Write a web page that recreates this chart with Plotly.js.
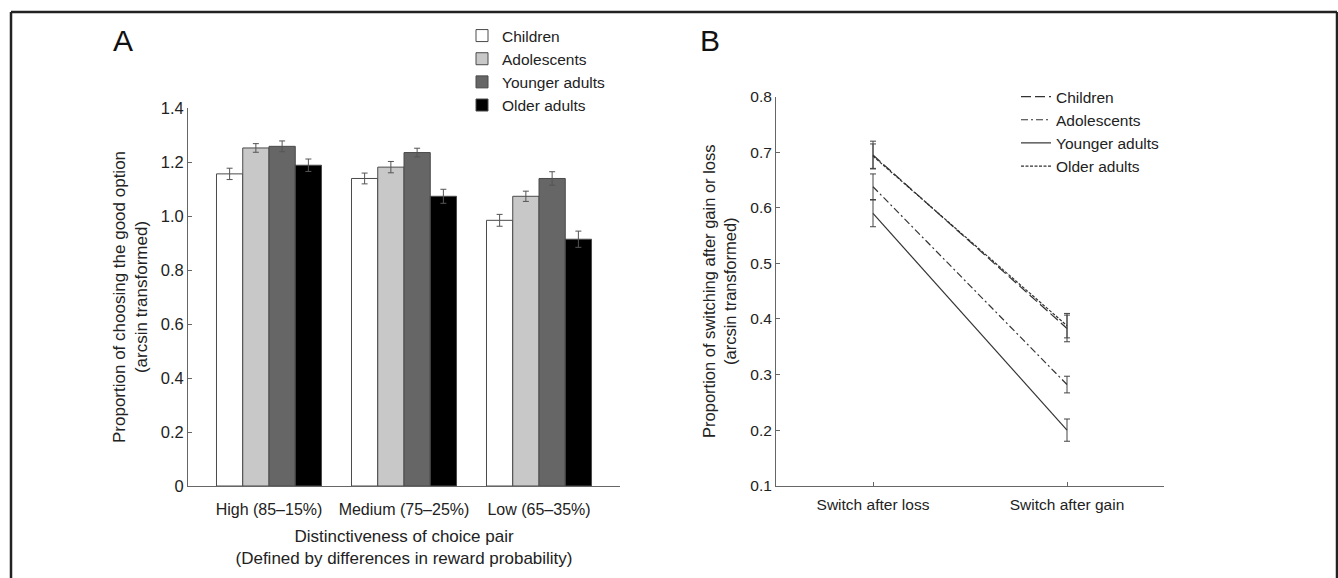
<!DOCTYPE html>
<html>
<head>
<meta charset="utf-8">
<script src="https://cdn.plot.ly/plotly-3.0.1.min.js"></script>
<style>html,body{margin:0;padding:0;background:#fff;}#chart{width:1338px;height:578px;}</style>
</head>
<body>
<div id="chart"></div>
<script>
// ---- Panel A data ----
const categoriesA = ["High (85–15%)", "Medium (75–25%)", "Low (65–35%)"];
const groups = ["Children", "Adolescents", "Younger adults", "Older adults"];
const childrenA = [1.156, 1.139, 0.984];
const adolescentsA = [1.252, 1.181, 1.073];
const youngerA = [1.258, 1.235, 1.139];
const olderA = [1.188, 1.073, 0.914];
const childrenAErr = [0.021, 0.020, 0.022];
const adolescentsAErr = [0.016, 0.021, 0.019];
const youngerAErr = [0.020, 0.016, 0.025];
const olderAErr = [0.023, 0.026, 0.030];
const yTicksA = [0, 0.2, 0.4, 0.6, 0.8, 1.0, 1.2, 1.4];
const yTickTextA = ["0", "0.2", "0.4", "0.6", "0.8", "1.0", "1.2", "1.4"];

// ---- Panel B data ----
const categoriesB = ["Switch after loss", "Switch after gain"];
const childrenB = [0.695, 0.383];
const adolescentsB = [0.638, 0.282];
const youngerB = [0.590, 0.200];
const olderB = [0.693, 0.388];
const childrenBErr = [0.025, 0.024];
const adolescentsBErr = [0.023, 0.015];
const youngerBErr = [0.024, 0.020];
const olderBErr = [0.022, 0.022];
const yTicksB = [0.1, 0.2, 0.3, 0.4, 0.5, 0.6, 0.7, 0.8];
const yTickTextB = ["0.1", "0.2", "0.3", "0.4", "0.5", "0.6", "0.7", "0.8"];

const FONT = "Arial, 'Liberation Sans', Helvetica, sans-serif";
const barFill = ["#ffffff", "#c8c8c8", "#666666", "#000000"];
const valsA = [childrenA, adolescentsA, youngerA, olderA];
const errsA = [childrenAErr, adolescentsAErr, youngerAErr, olderAErr];

const traces = [];
groups.forEach((g, i) => {
  traces.push({
    type: "bar", x: categoriesA, y: valsA[i], name: g,
    xaxis: "x", yaxis: "y", legend: "legend",
    marker: {color: barFill[i], line: {color: "#4a4a4a", width: 1}},
    error_y: {type: "data", array: errsA[i], visible: true, color: "#555", thickness: 1, width: 3}
  });
});

const valsB = [childrenB, adolescentsB, youngerB, olderB];
const errsB = [childrenBErr, adolescentsBErr, youngerBErr, olderBErr];
const dashes = ["10px,4px", "7px,3px,2px,3px", "solid", "3px,1.5px"];
groups.forEach((g, i) => {
  traces.push({
    type: "scatter", mode: "lines", x: categoriesB, y: valsB[i], name: g,
    xaxis: "x2", yaxis: "y2", legend: "legend2",
    line: {color: "#333", width: 1.2, dash: dashes[i]},
    error_y: {type: "data", array: errsB[i], visible: true, color: "#444", thickness: 1, width: 3}
  });
});

const W = 1338, H = 578;
const px = v => v / W, py = v => 1 - v / H;

const layout = {
  width: W, height: H,
  margin: {l: 0, r: 0, t: 0, b: 0},
  paper_bgcolor: "#fff", plot_bgcolor: "rgba(0,0,0,0)",
  font: {family: FONT, size: 16, color: "#222"},
  barmode: "group", bargap: 0.222, bargroupgap: 0,
  showlegend: true,
  xaxis: {
    domain: [px(188), px(620)], anchor: "y",
    range: [-0.6, 2.6], showline: true, linecolor: "#666", linewidth: 1,
    ticks: "", showgrid: false, zeroline: false,
    ticklabelstandoff: 9,
    tickfont: {size: 16, color: "#222"},
    title: {text: "Distinctiveness of choice pair<br>(Defined by differences in reward probability)", font: {size: 17, color: "#222"}, standoff: 12}
  },
  yaxis: {
    domain: [py(486), py(108)], anchor: "x",
    range: [0, 1.4], showline: true, linecolor: "#666", linewidth: 1,
    ticks: "inside", ticklen: 4, tickcolor: "#666",
    tickvals: yTicksA, ticktext: yTickTextA,
    showgrid: false, zeroline: false,
    tickfont: {size: 16.5, color: "#222"},
    title: {text: "Proportion of choosing the good option<br>(arcsin transformed)", font: {size: 17, color: "#222"}, standoff: 8}
  },
  xaxis2: {
    domain: [px(776), px(1164)], anchor: "y2",
    range: [-0.5, 1.5], showline: true, linecolor: "#666", linewidth: 1,
    ticks: "inside", ticklen: 4, tickcolor: "#666",
    showgrid: false, zeroline: false,
    ticklabelstandoff: 5,
    tickfont: {size: 15.5, color: "#222"}
  },
  yaxis2: {
    domain: [py(485.7), py(96.7)], anchor: "x2",
    range: [0.1, 0.8], showline: true, linecolor: "#666", linewidth: 1,
    ticks: "inside", ticklen: 4, tickcolor: "#666",
    tickvals: yTicksB, ticktext: yTickTextB,
    showgrid: false, zeroline: false,
    tickfont: {size: 15.5, color: "#222"},
    title: {text: "Proportion of switching after gain or loss<br>(arcsin transformed)", font: {size: 16.5, color: "#222"}, standoff: 9}
  },
  legend: {
    x: px(462), y: py(19), xanchor: "left", yanchor: "top",
    bgcolor: "rgba(0,0,0,0)", font: {size: 15.5, color: "#222"},
    tracegroupgap: 0, itemwidth: 30
  },
  legend2: {
    x: px(1016), y: py(80), xanchor: "left", yanchor: "top",
    bgcolor: "rgba(0,0,0,0)", font: {size: 15.5, color: "#222"},
    tracegroupgap: 0, itemwidth: 30
  },
  annotations: [
    {text: "A", xref: "paper", yref: "paper", x: px(123), y: py(41), xanchor: "center", yanchor: "middle", showarrow: false, font: {size: 30, color: "#111"}},
    {text: "B", xref: "paper", yref: "paper", x: px(710), y: py(41), xanchor: "center", yanchor: "middle", showarrow: false, font: {size: 30, color: "#111"}}
  ],
  shapes: [
    {type: "line", xref: "paper", yref: "paper", x0: px(11), x1: px(11), y0: 0, y1: py(12), line: {color: "#222", width: 2.5}},
    {type: "line", xref: "paper", yref: "paper", x0: px(11), x1: px(1337), y0: py(12), y1: py(12), line: {color: "#222", width: 2.5}},
    {type: "line", xref: "paper", yref: "paper", x0: px(1337), x1: px(1337), y0: 0, y1: py(12), line: {color: "#222", width: 2.5}}
  ]
};

Plotly.newPlot("chart", traces, layout, {displayModeBar: false, staticPlot: true});
</script>
</body>
</html>
